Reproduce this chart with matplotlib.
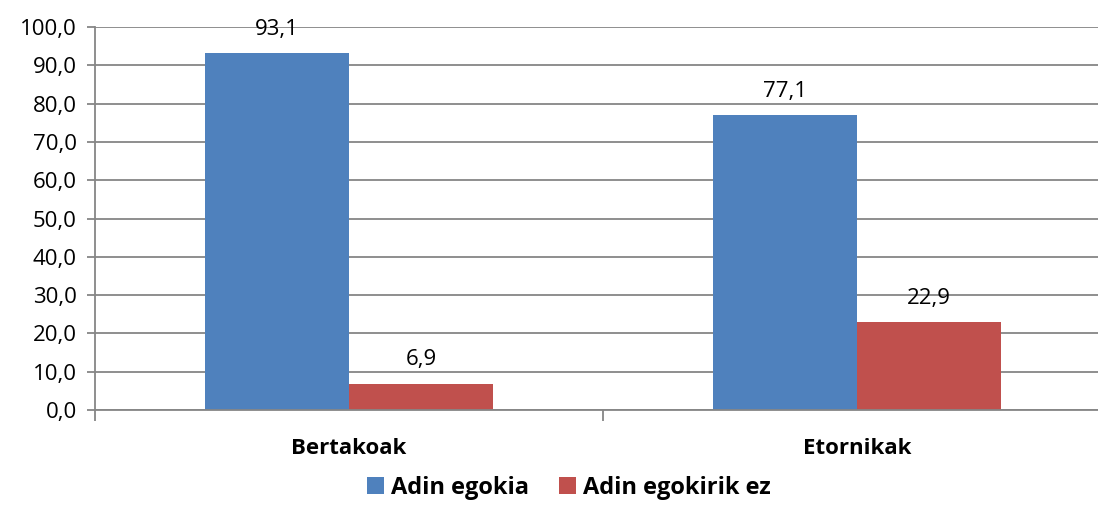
import matplotlib.pyplot as plt
import numpy as np

categories = ["Bertakoak", "Etornikak"]
series_names = ["Adin egokia", "Adin egokirik ez"]
adin_egokia = [93.1, 77.1]
adin_egokirik_ez = [6.9, 22.9]
yticks = np.arange(0, 101, 10)

plt.rcParams['font.family'] = ['Open Sans', 'DejaVu Sans']

fig = plt.figure(figsize=(10.98, 5.05), dpi=100)
ax = fig.add_axes([95/1098, 95/505, 1016/1098, 383/505])

x = np.arange(len(categories))
w = 0.2835
colors = ["#4F81BD", "#C0504D"]
b1 = ax.bar(x - w/2, adin_egokia, w, color=colors[0], label=series_names[0], zorder=3)
b2 = ax.bar(x + w/2, adin_egokirik_ez, w, color=colors[1], label=series_names[1], zorder=3)

for bars in (b1, b2):
    for r in bars:
        v = r.get_height()
        ax.annotate(f"{v:.1f}".replace(".", ","), (r.get_x() + r.get_width()/2, v),
                    xytext=(0, 17), textcoords="offset points", ha="center", va="center",
                    fontsize=16, color="#000000")

ax.set_xlim(-0.5, 1.5)
ax.set_ylim(0, 100)
ax.set_yticks(yticks)
ax.set_yticklabels([f"{t:.1f}".replace(".", ",") for t in yticks], fontsize=16)
ax.yaxis.grid(True, color="#868686", linewidth=1.3, zorder=0)
ax.tick_params(axis="y", length=6, width=1.3, color="#868686", pad=7)

ax.set_xticks([-0.5, 0.5, 1.5])
ax.set_xticklabels([])
ax.set_xticks(x, minor=True)
ax.set_xticklabels(categories, minor=True, fontsize=16, fontweight="bold")
ax.tick_params(axis="x", which="major", length=8, width=1.3, color="#868686", direction="out")
ax.tick_params(axis="x", which="minor", length=0, pad=20)

for s in ["top", "right"]:
    ax.spines[s].set_visible(False)
for s in ["left", "bottom"]:
    ax.spines[s].set_color("#868686")
    ax.spines[s].set_linewidth(1.3)
ax.spines["bottom"].set_zorder(4)

fig.legend(handles=[b1, b2], loc="center", bbox_to_anchor=(569/1098, 17/505), ncol=2,
           frameon=False, prop={"size": 17, "weight": "bold"},
           handlelength=0.7, handleheight=0.7, handletextpad=0.3, columnspacing=1.3)

fig.savefig("out.png", dpi=100)
